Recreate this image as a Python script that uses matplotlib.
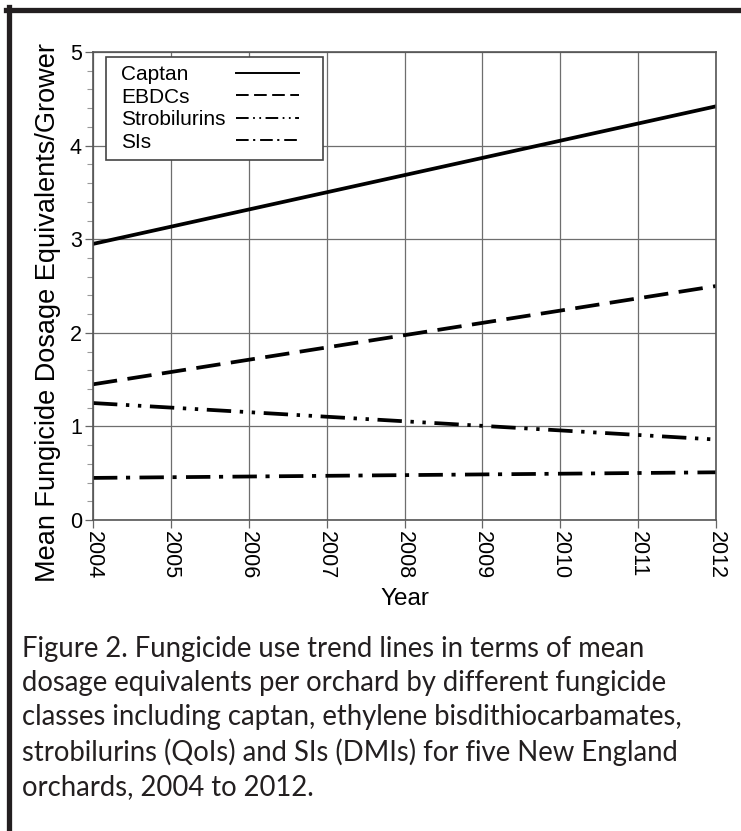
import matplotlib
matplotlib.use("Agg")
import matplotlib.pyplot as plt
from matplotlib.lines import Line2D
from matplotlib.offsetbox import DrawingArea
from matplotlib.ticker import MultipleLocator

# trend line end points
years = [2004, 2012]
captan = [2.95, 4.42]
ebdcs = [1.45, 2.50]
strobilurins = [1.25, 0.86]
sis = [0.45, 0.51]

series = ["Captan", "EBDCs", "Strobilurins", "SIs"]
values = [captan, ebdcs, strobilurins, sis]
dash_styles = [
    "solid",
    (0, (6.5, 2.8)),
    (0, (6.5, 2.3, 0.9, 2.3, 0.9, 2.3)),
    (0, (6.5, 2.3, 1.1, 2.5)),
]

caption = ("Figure 2. Fungicide use trend lines in terms of mean\n"
           "dosage equivalents per orchard by different fungicide\n"
           "classes including captan, ethylene bisdithiocarbamates,\n"
           "strobilurins (QoIs) and SIs (DMIs) for five New England\n"
           "orchards, 2004 to 2012.")

plt.rcParams["font.family"] = ["Liberation Sans", "DejaVu Sans"]

fig = plt.figure(figsize=(7.41, 8.31), dpi=100)
ax = fig.add_axes([0.1255, 0.3742, 0.8408, 0.5632])

for name, vals, ls in zip(series, values, dash_styles):
    ax.plot(years, vals, color="black", lw=2.7, linestyle=ls, label=name)

ax.set_xlim(2004, 2012)
ax.set_ylim(0, 5)
ax.set_xticks(range(2004, 2013))
ax.set_yticks(range(0, 6))
ax.yaxis.set_minor_locator(MultipleLocator(0.2))
ax.grid(True, which="major", color="#6e6e6e", lw=0.9)
for sp in ax.spines.values():
    sp.set_color("#555555")
    sp.set_linewidth(1.2)
ax.tick_params(axis="both", which="major", direction="out", length=6,
               width=0.9, color="#666666", labelsize=15.5, pad=2)
ax.tick_params(axis="y", which="minor", direction="out", length=4,
               width=0.8, color="#999999")
plt.setp(ax.get_xticklabels(), rotation=-90, va="top", ha="center")

ax.set_xlabel("Year", fontsize=17.5, labelpad=6)
ax.set_ylabel("Mean Fungicide Dosage Equivalents/Grower", fontsize=19.5)
ax.yaxis.set_label_coords(-0.051, 0.444)

leg = ax.legend(loc="upper left", bbox_to_anchor=(0.021, 0.989),
                markerfirst=False, fontsize=15, handlelength=3.0,
                handletextpad=1.0, labelspacing=0.17, borderpad=0.38,
                borderaxespad=0, columnspacing=0, fancybox=False,
                framealpha=1, edgecolor="#444444")
leg.get_frame().set_linewidth(1.2)
for line in leg.get_lines():
    line.set_linewidth(1.4)
# left-align the labels and right-align the handles inside the box
box = leg._legend_handle_box
for col in box.get_children():
    col.width = 178
    for row in col.get_children():
        row.mode = "expand"
# extra side padding: more room on the right of the handles
box._children.insert(0, DrawingArea(5, 0))
box._children.append(DrawingArea(11.5, 0))

fig.text(0.030, 0.136, caption, fontsize=19.8, family=["Lato", "DejaVu Sans"],
         color="#231f20", va="center", ha="left", linespacing=1.38)

# page frame (top and left rules)
fig.add_artist(Line2D([6 / 741, 1], [1 - 9.5 / 831] * 2, color="#231f20",
                      lw=3.8, transform=fig.transFigure))
fig.add_artist(Line2D([8.5 / 741] * 2, [0, 1 - 7 / 831], color="#231f20",
                      lw=3.8, transform=fig.transFigure))

fig.savefig("out.png", dpi=100)
